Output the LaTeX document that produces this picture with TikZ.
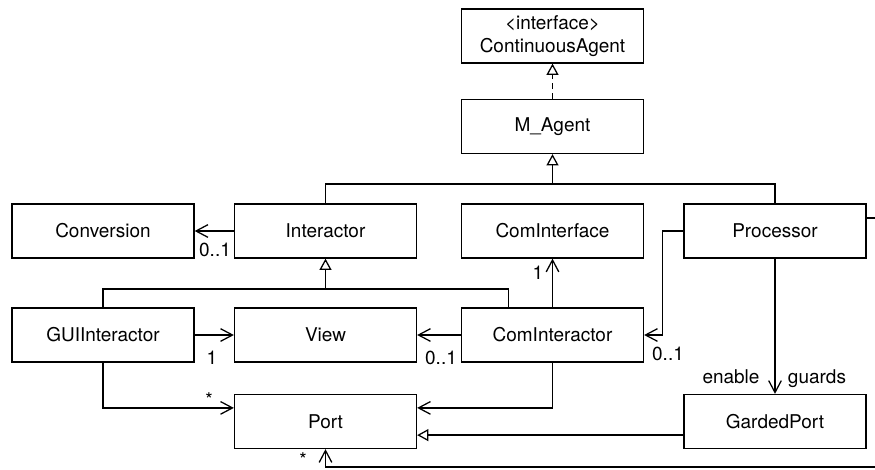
\documentclass[tikz,border=0pt]{standalone}
\usepackage{fontspec}
\setmainfont{TeX Gyre Heros}
\usetikzlibrary{arrows.meta}

\tikzset{
  umlclass/.style={draw, minimum width=4.55cm, minimum height=1.35cm, inner sep=0pt,
    align=center, font=\fontsize{13.5}{16.5}\selectfont},
  mult/.style={anchor=base, inner sep=0pt, font=\fontsize{13.5}{16.5}\selectfont},
  assoc/.style={-{Straight Barb[length=8.5pt,width=9pt]}},
  inherit/.style={-{Triangle[open,length=8pt,width=8.5pt]}},
}

\begin{document}
\begin{tikzpicture}[x=0.025cm, y=-0.025cm, line width=0.9pt]
    \useasboundingbox (0,0) rectangle (875,469);
    \clip (0,0) rectangle (875,469);
    % classes
    \node [umlclass] (contagent) at (552.5,36) {<interface>\\ContinuousAgent};
    \node [umlclass] (magent) at (552.5,126.5) {M\_Agent};
    \node [umlclass] (conversion) at (103,231) {Conversion};
    \node [umlclass] (interactor) at (325.5,231) {Interactor};
    \node [umlclass] (comiface) at (552.5,231) {ComInterface};
    \node [umlclass] (proc) at (775,231) {Processor};
    \node [umlclass] (guiint) at (103,335) {GUIInteractor};
    \node [umlclass] (view) at (325.5,335) {View};
    \node [umlclass] (cominter) at (552.5,335) {ComInteractor};
    \node [umlclass] (port) at (325.5,421.5) {Port};
    \node [umlclass] (gport) at (775,421.5) {GardedPort};
    % generalisations
    \draw [inherit, dash pattern=on 4pt off 3pt] (magent) -- (contagent);
    \coordinate (tree) at (552.5,184);
    \draw [inherit] (interactor.north) |- (tree) -- (magent.south);
    \draw (proc.north) |- (tree);
    \coordinate (subtree) at (325.5,289);
    \draw [inherit] (guiint.north) |- (subtree) -- (interactor.south);
    \draw (subtree) -| ([xshift=-1.1cm]cominter.north);
    \draw [inherit] ([yshift=-0.34cm]gport.west) -- ([yshift=-0.34cm]port.east);
    % associations
    \draw [assoc] (interactor) -- (conversion);
    \draw [assoc] (cominter) -- (comiface);
    \draw [assoc] (proc.west) -- ++(-21,0) |- (cominter.east);
    \draw [assoc] (guiint) -- (view);
    \draw [assoc] (cominter) -- (view);
    \draw [assoc] (guiint.south) |- ([yshift=0.34cm]port.west);
    \draw [assoc] (cominter.south) |- ([yshift=0.34cm]port.east);
    \draw [assoc] (proc) -- (gport);
    \draw [assoc] ([yshift=0.325cm]proc.east) -- ++(30,0) -- ++(0,249) -| (port.south);
    % multiplicities and roles
    \node [mult] (mconv) at (215,256) {0..1};
    \node [mult] (mcomif) at (538,279) {1};
    \node [mult] (mproc) at (668,360) {0..1};
    \node [mult] (mguiv) at (212,364) {1};
    \node [mult] (mcomv) at (441,364) {0..1};
    \node [mult] (mguip) at (209,406) {*};
    \node [mult] (mprocp) at (303,466) {*};
    \node [mult] (renable) at (731,383) {enable};
    \node [mult] (rguards) at (817,383) {guards};
\end{tikzpicture}
\end{document}
